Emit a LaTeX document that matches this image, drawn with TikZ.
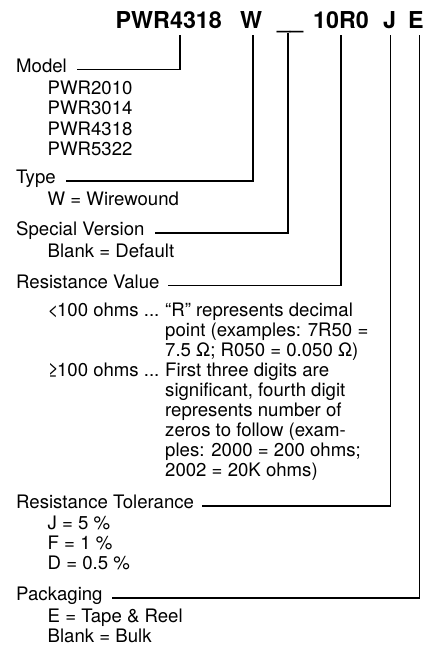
\documentclass[tikz,border=0pt]{standalone}
\usepackage{fontspec}
\setmainfont{TeX Gyre Heros}
\begin{document}
\begin{tikzpicture}[x=1pt,y=-1pt,
  hdr/.style={font=\fontsize{23.3}{28}\selectfont\bfseries, inner sep=0pt, anchor=base west},
  txt/.style={font=\fontsize{18.6}{20}\selectfont, inner sep=0pt, anchor=base west},
  conn/.style={line width=1.3pt, black}]
\useasboundingbox (0,0) rectangle (438,648);
% header
\node[hdr] (hpwr) at (115.5,28) {PWR4318};
\node[hdr] (hw)   at (240,28) {W};
\node[hdr] (hsv)  at (277,28) {\_\_};
\node[hdr] (hval) at (313,28) {10R0};
\node[hdr] (hj)   at (383,28) {J};
\node[hdr] (he)   at (408,28) {E};
% connector tops
\coordinate (cmodel) at (180,35);
\coordinate (ctype)  at (253,35);
\coordinate (csv)    at (288,33);
\coordinate (cval)   at (341,35);
\coordinate (ctol)   at (390.5,35);
\coordinate (cpack)  at (419.5,35);
% Model
\node[txt] (model) at (16,72) {Model};
\node[txt] (m1) at (47.5,94) {PWR2010};
\node[txt] (m2) at (47.5,114.5) {PWR3014};
\node[txt] (m3) at (47.5,135) {PWR4318};
\node[txt] (m4) at (47.5,155.5) {PWR5322};
% Type
\node[txt] (type) at (16,183.5) {Type};
\node[txt] (t1) at (47.5,205.5) {W = Wirewound};
% Special version
\node[txt] (sv) at (16,235.5) {Special Version};
\node[txt] (s1) at (47.5,257.5) {Blank = Default};
% Resistance value
\node[txt] (rv) at (16,288) {Resistance Value};
\node[txt] (r1) at (47.5,316) {<\kern-1.5pt100 ohms ...};
\node[txt] (r1a) at (165,316) {“R” represents decimal};
\node[txt] (r1b) at (165,336) {point (examples: 7R50 =};
\node[txt] (r1c) at (165,356) {7.5 Ω; R050 = 0.050 Ω)};
\node[txt] (r2) at (47.5,376) {≥\kern-1.5pt100 ohms ...};
\node[txt] (r2a) at (165,376) {First three digits are};
\node[txt] (r2b) at (165,396) {significant, fourth digit};
\node[txt] (r2c) at (165,416) {represents number of};
\node[txt] (r2d) at (165,436) {zeros to follow (exam-};
\node[txt] (r2e) at (165,456) {ples: 2000 = 200 ohms;};
\node[txt] (r2f) at (165,476) {2002 = 20K ohms)};
% Tolerance
\node[txt] (tol) at (16,508.5) {Resistance Tolerance};
\node[txt] (o1) at (47.5,529.5) {J = 5 \%};
\node[txt] (o2) at (47.5,549.5) {F = 1 \%};
\node[txt] (o3) at (47.5,569.5) {D = 0.5 \%};
% Packaging
\node[txt] (pack) at (16,600.5) {Packaging};
\node[txt] (p1) at (47.5,622) {E = Tape \& Reel};
\node[txt] (p2) at (47.5,642.5) {Blank = Bulk};
% connectors
\draw[conn] (cmodel) |- ([xshift=10pt]model.mid east);
\draw[conn] (ctype)  |- ([xshift=10pt]type.mid east);
\draw[conn] (csv)    |- ([xshift=10pt]sv.mid east);
\draw[conn] (cval)   |- ([xshift=8pt]rv.mid east);
\draw[conn] (ctol)   |- ([xshift=8pt]tol.mid east);
\draw[conn] (cpack)  |- ([xshift=9pt]pack.mid east);
\end{tikzpicture}
\end{document}
